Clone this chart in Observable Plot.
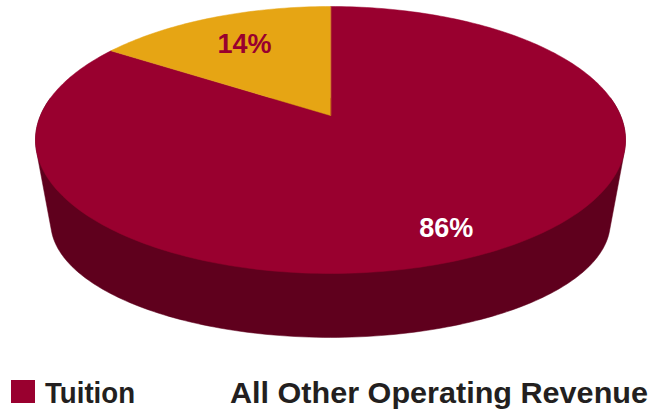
<!DOCTYPE html>
<html><head><meta charset="utf-8">
<script src="https://cdn.jsdelivr.net/npm/d3@7"></script>
<script src="https://cdn.jsdelivr.net/npm/@observablehq/plot@0.6"></script>
<style>
body{margin:0;background:#fff;}
#chart svg{display:block;}
#legend{display:block;}
</style>
</head><body>
<div id="chart"></div>
<script>
// ---- data ----
const categories = ["Tuition", "All Other Operating Revenue"];
const shares = [86, 14];
const labels = ["86%", "14%"];
const topColors = ["#99002f", "#e6a514"];
const labelColors = ["#ffffff", "#99002f"];
const legendSwatch = [true, false];

// ---- 3D pie projection (styling) ----
const W = 667, H = 360;
const deg = Math.PI / 180;
const K = 0.1835;                       // perspective strength
const TOP = {s: 290, t: 129, cy: 0};    // top face
const BOT = {s: 275, t: 111, cy: 86};   // bottom face
const WARP = 6.2;                        // apparent angle correction
function proj(theta, r, face) {
  const th = (theta + WARP * Math.sin(2 * (theta - 90) * deg)) * deg;
  const u = r * Math.cos(th), v = r * Math.sin(th);
  const w = 1 + K * v;
  return {x: face.s * u / w, y: face.cy - face.t * v / w};
}

const total = d3.sum(shares);
let acc = 90;
const slices = shares.map((v, i) => {
  const a0 = acc, a1 = acc - v / total * 360;
  acc = a1;
  return {i, a0, a1, mid: (a0 + a1) / 2};
});
function sliceAt(theta) {
  for (const s of slices) {
    let t = theta;
    while (t > s.a0) t -= 360;
    while (t <= s.a0 - 360) t += 360;
    if (t >= s.a1) return s.i;
  }
  return 0;
}

// side wall: hull of the near top rim and the whole bottom rim
const rimPts = [];
for (let th = 170; th <= 370; th += 1) { const p = proj(th, 1, TOP); rimPts.push([p.x, p.y]); }
for (let th = 0; th < 360; th += 1) { const p = proj(th, 1, BOT); rimPts.push([p.x, p.y]); }
const sideColor = d3.color(topColors[sliceAt(270)]).darker(1.35).formatHex();
const side = d3.polygonHull(rimPts).map(([x, y]) => ({x, y, color: sideColor}));

// top faces
const tops = [];
slices.forEach(s => {
  const n = Math.max(4, Math.ceil(Math.abs(s.a0 - s.a1)));
  tops.push({slice: s.i, x: 0, y: 0, color: topColors[s.i]});
  for (let k = 0; k <= n; k++) {
    const p = proj(s.a0 + (s.a1 - s.a0) * k / n, 1, TOP);
    tops.push({slice: s.i, x: p.x, y: p.y, color: topColors[s.i]});
  }
});

// labels
const labelR = [0.8, 0.69];
const labelOff = [[-17, 10], [4, -2]];
const labelData = slices.map(s => {
  const p = proj(s.mid, labelR[s.i], TOP);
  return {x: p.x + labelOff[s.i][0], y: p.y + labelOff[s.i][1], text: labels[s.i], color: labelColors[s.i]};
});

const chart = Plot.plot({
  width: W, height: H,
  marginTop: 0, marginRight: 0, marginBottom: 0, marginLeft: 0,
  x: {domain: [-330, 337], range: [0, W], axis: null},
  y: {domain: [-115, 245], range: [0, H], axis: null},
  color: {type: "identity"},
  style: {fontFamily: "'Liberation Sans', Arial, sans-serif", background: "#fff"},
  marks: [
    Plot.line(side, {x: "x", y: "y", fill: "color", stroke: "color", strokeWidth: 0.5, curve: "linear-closed"}),
    Plot.line(tops, {x: "x", y: "y", z: "slice", fill: "color", stroke: "color", strokeWidth: 0.5, curve: "linear-closed"}),
    Plot.text(labelData, {x: "x", y: "y", text: "text", fill: "color", fontSize: 27, fontWeight: "bold"})
  ]
});
document.getElementById("chart").appendChild(chart);

// legend below the chart
const lg = d3.select("#chart").append("svg").attr("id", "legend")
  .attr("width", W).attr("height", 52)
  .style("font-family", "'Liberation Sans', Arial, sans-serif");
const legendX = [11, 196];
const legendLen = [90, 418];
categories.forEach((c, i) => {
  if (legendSwatch[i]) lg.append("rect").attr("x", legendX[i]).attr("y", 20).attr("width", 24).attr("height", 23).attr("fill", topColors[i]);
  lg.append("text").attr("x", legendX[i] + 34).attr("y", 42.5)
    .attr("font-size", 30).attr("font-weight", "bold").attr("fill", "#231f20")
    .attr("textLength", legendLen[i]).attr("lengthAdjust", "spacingAndGlyphs")
    .text(c);
});
</script>
</body></html>
